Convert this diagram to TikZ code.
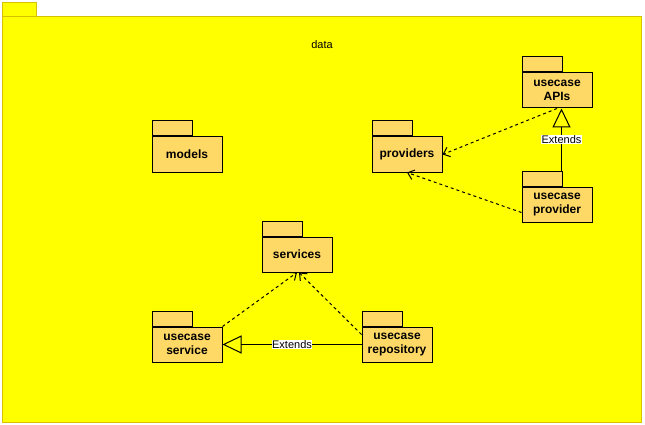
\documentclass[tikz,border=0pt]{standalone}
\usepackage{fontspec}
\setmainfont{Liberation Sans}
\usetikzlibrary{arrows.meta,positioning}

\definecolor{pkgfill}{HTML}{FFD966}
\definecolor{outerfill}{HTML}{FFFF00}
\definecolor{outerline}{HTML}{D6C200}

\tikzset{
  pkgbody/.style={draw=black, fill=pkgfill, line width=1pt, minimum width=70pt, minimum height=35pt,
    inner sep=1pt, align=center, font=\bfseries\fontsize{12}{14}\selectfont},
  pkgtab/.style={draw=black, fill=pkgfill, line width=1pt, minimum width=40pt, minimum height=15pt,
    inner sep=0pt, anchor=south west},
  depend/.style={line width=1pt, dash pattern=on 3pt off 3pt, -{Straight Barb[length=6pt,width=10pt]}},
  extends/.style={line width=1pt, -{Triangle[open,length=19pt,width=18pt]}},
  extlabel/.style={fill=white, inner sep=0.6pt, font=\fontsize{11}{13}\selectfont}
}

\begin{document}
\begin{tikzpicture}[x=1pt,y=-1pt]
    \useasboundingbox (0,0) rectangle (645,425);
    % Outer package
    \draw[fill=outerfill, draw=outerline] (2,2) rectangle (36,16);
    \draw[fill=outerfill, draw=outerline] (2,16) rectangle (641,422);
    \node (title) at (322,45) {\fontsize{11}{13}\selectfont data};
    % Inner packages
    \foreach \name/\pos/\txt in {models/{(187,154.5)}/models,
                                 providers/{(407,154.5)}/providers,
                                 uapis/{(557,90.5)}/{usecase\\APIs},
                                 uprov/{(557,204.5)}/{usecase\\provider},
                                 services/{(297,254.5)}/services,
                                 uservice/{(187,344.5)}/{usecase\\service},
                                 urepo/{(397,344.5)}/{usecase\\repository}} {
        \node[pkgbody] (\name) at \pos {\txt};
        \node[pkgtab] (\name tab) at (\name.north west) {};
    }
    % Dependencies
    \draw[depend] (uapis.south) -- (providers.east);
    \draw[depend] ([yshift=-8pt]uprov.west) -- (providers.south);
    \draw[depend] (uservice.north east) -- (services.south);
    \draw[depend] ([yshift=-8pt]urepo.north west) -- ([xshift=2pt]services.south);
    % Extends
    \draw[extends] ([xshift=-1pt]uprovtab.north east) -- ([xshift=-1pt]uprovtab.east |- uapis.south)
        node[extlabel, pos=0.5] (extup) {Extends};
    \draw[extends] (urepo.west) -- (uservice.east)
        node[extlabel, pos=0.5] (extlow) {Extends};
\end{tikzpicture}
\end{document}
